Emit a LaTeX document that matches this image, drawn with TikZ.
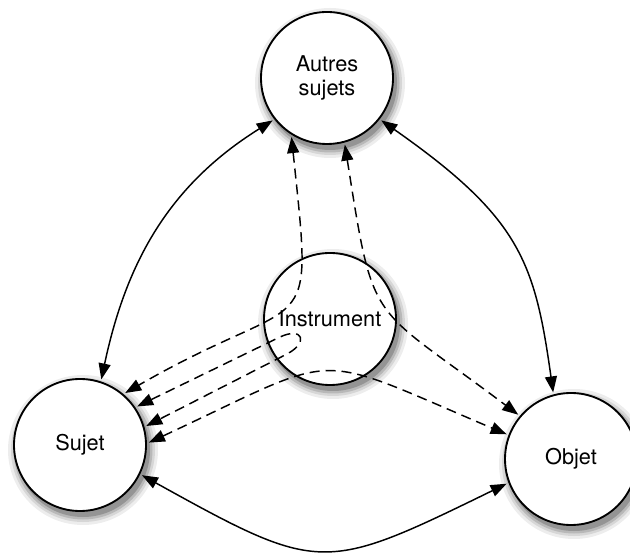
\documentclass[tikz,border=0pt]{standalone}
\usepackage{fontspec}
\setmainfont{TeX Gyre Heros}
\usetikzlibrary{arrows.meta}
\begin{document}
\begin{tikzpicture}[x=0.75pt,y=0.75pt,
  bubble/.style={circle,draw=black,line width=1.4pt,fill=white,minimum size=99pt,
    inner sep=0pt,outer sep=2.2pt,align=center,
    font=\fontsize{16.3}{17.5}\selectfont},
  shade1/.style={fill=black!7,draw=none},
  shade2/.style={fill=black!16,draw=none},
  shade3/.style={fill=black!28,draw=none},
  shade4/.style={fill=black!42,draw=none},
  link/.style={line width=1.1pt,{Triangle[length=12pt,width=9pt]}-{Triangle[length=12pt,width=9pt]}},
  dlink/.style={link,dash pattern=on 7.5pt off 4.5pt}]
\useasboundingbox (0,0) rectangle (630,552);
% soft shadows below the circles
\path[shade1] (330,469) circle (75) (333,228) circle (75) (83,102) circle (75) (574,88) circle (75);
\path[shade2] (330,469) circle (72) (333,228) circle (72) (83,102) circle (72) (574,88) circle (72);
\path[shade3] (330,469) circle (69.5) (333,228) circle (69.5) (83,102) circle (69.5) (574,88) circle (69.5);
\path[shade4] (330,469) circle (67) (333,228) circle (67) (83,102) circle (67) (574,88) circle (67);
\node[bubble] (autres) at (327,474) {Autres\\sujets};
\node[bubble] (instr) at (330,233) {Instrument};
\node[bubble] (sujet) at (80,107) {Sujet};
\node[bubble] (objet) at (571,93) {Objet};
% solid connectors
\draw[link] (sujet.72) to[out=78,in=212,looseness=1] (autres.218);
\draw[link] (autres.-38) to[out=-35,in=98,out looseness=1.35,in looseness=1.05] (objet.105);
\draw[link] (sujet.-26) to[out=-29,in=206,looseness=1.43] (objet.201);
% dashed connectors through the instrument
\draw[dlink] (autres.239) to[out=-84,in=30,looseness=1.8] (sujet.49);
\draw[dlink] (autres.285) to[out=-81,in=143,looseness=1.5] (objet.140);
\coordinate (l1) at (280,215);
\coordinate (l2) at (287,198);
\draw[dlink] (sujet.34) -- (l1) .. controls (302.7,225.6) and (309.1,209.7) .. (l2) -- (sujet.16);
\draw[dlink] (sujet.2) to[out=25,in=157,looseness=1.55] (objet.159);
\end{tikzpicture}
\end{document}
